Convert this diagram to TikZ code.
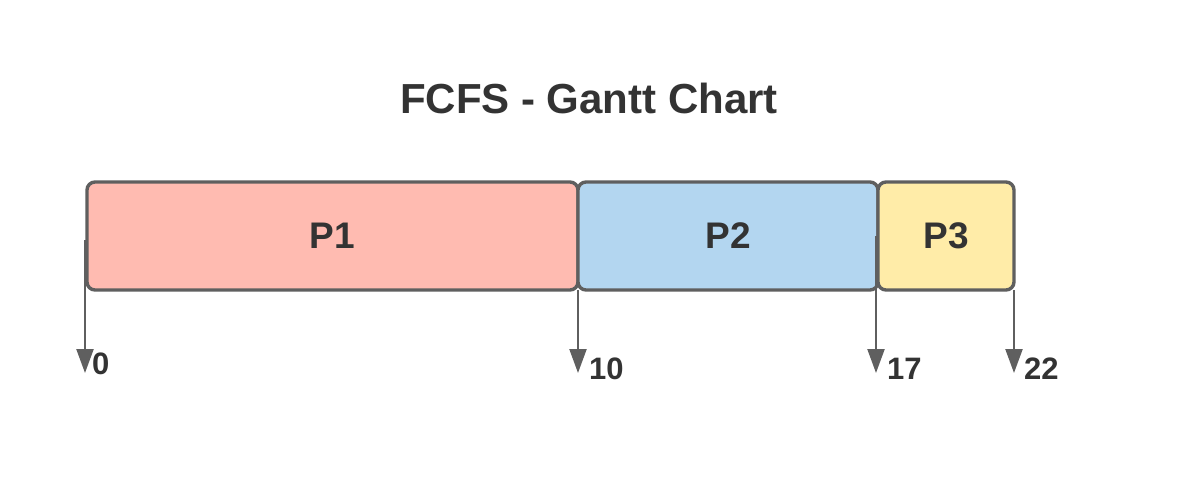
\documentclass[tikz,border=0pt]{standalone}
\usepackage{fontspec}
\setmainfont{Liberation Sans}
\usetikzlibrary{arrows.meta}
\definecolor{edge}{HTML}{5F5F5F}
\definecolor{txt}{HTML}{333333}
\definecolor{pink}{HTML}{FFBBB1}
\definecolor{sky}{HTML}{B3D6F0}
\definecolor{sand}{HTML}{FFECA8}
\tikzset{
  procbox/.style={draw=edge, line width=3.4pt, rounded corners=8pt, minimum height=108pt, inner sep=0pt, outer sep=0pt, text=txt, font=\fontsize{37}{44}\selectfont\bfseries},
  timearrow/.style={draw=edge, line width=2.2pt, -{Triangle[length=24pt,width=17pt]}},
  ticklabel/.style={anchor=west, inner sep=0pt, text=txt, font=\fontsize{31}{36}\selectfont\bfseries},
}
\begin{document}
\begin{tikzpicture}[x=1pt,y=-1pt]
\useasboundingbox (0,0) rectangle (1192,490);
\fill[white] (0,0) rectangle (1192,490);
\node[text=txt, font=\fontsize{42}{50}\selectfont\bfseries] (title) at (589,98) {FCFS - Gantt Chart};
\node[procbox, fill=pink, minimum width=491pt] (p1) at (332.5,236) {P1};
\node[procbox, fill=sky, minimum width=300pt] (p2) at (728,236) {P2};
\node[procbox, fill=sand, minimum width=136pt] (p3) at (946,236) {P3};
\coordinate (t0) at (85,373);
\coordinate (t10) at (578,373);
\coordinate (t17) at (876,373);
\coordinate (t22) at (1014,373);
\draw[timearrow] ([xshift=-2pt,yshift=-4pt]p1.west) -- (t0);
\draw[timearrow] (p1.south east) -- (t10);
\draw[timearrow] ([xshift=-2pt]p2.east) -- (t17);
\draw[timearrow] (p3.south east) -- (t22);
\node[ticklabel] (l0) at (92,364) {0};
\node[ticklabel] (l10) at (589,369) {10};
\node[ticklabel] (l17) at (887,369) {17};
\node[ticklabel] (l22) at (1024,369) {22};
\end{tikzpicture}
\end{document}
